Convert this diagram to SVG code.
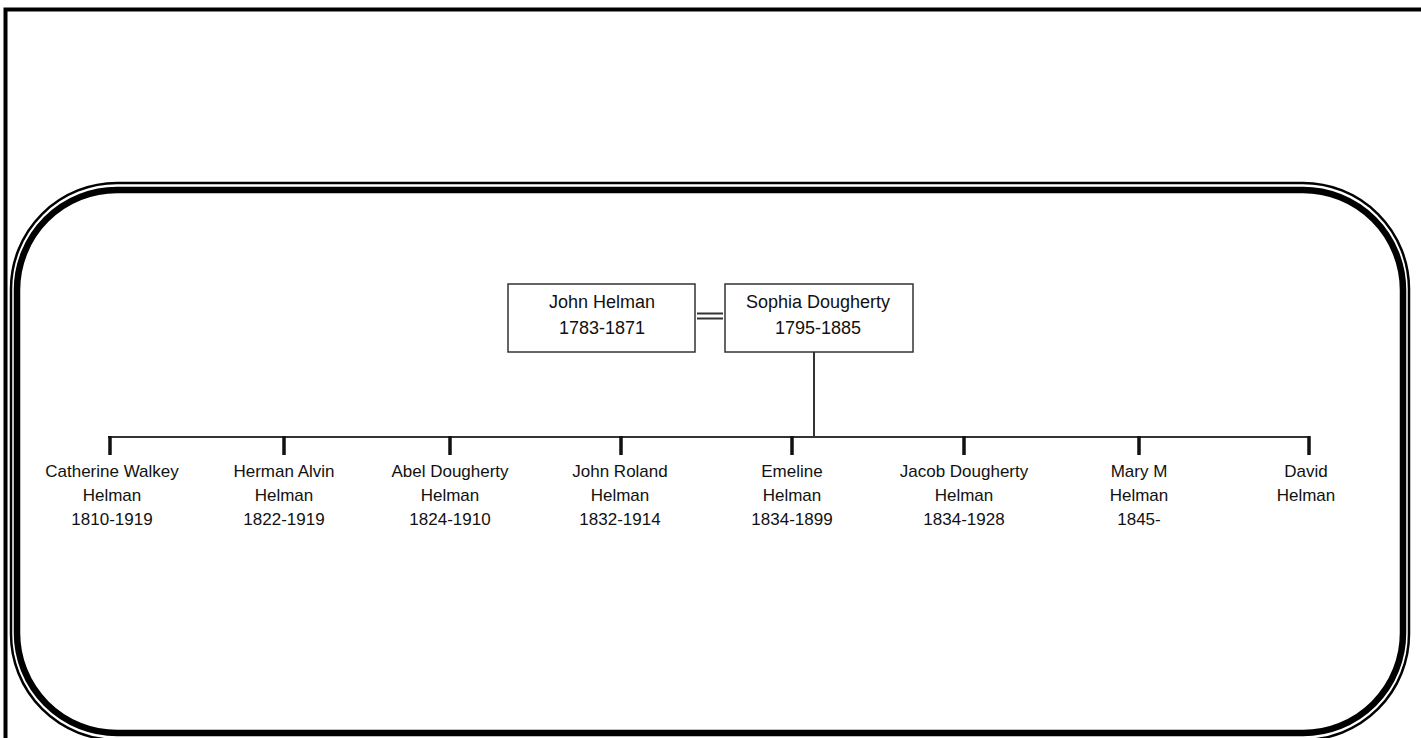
<svg xmlns="http://www.w3.org/2000/svg" width="1421" height="738" viewBox="0 0 1421 738">
  <style>
    .frame { fill: none; stroke: #000; }
    .box { fill: #fff; stroke: #333; stroke-width: 1.5; }
    .ptext { font-family: "Liberation Sans", Arial, sans-serif; font-size: 18px; fill: #111; text-anchor: middle; }
    .ctext { font-family: "Liberation Sans", Arial, sans-serif; font-size: 17px; fill: #111; text-anchor: middle; }
    .line { stroke: #333; stroke-width: 2; fill: none; }
    .tick { stroke: #111; stroke-width: 3.5; fill: none; }
  </style>
  <rect x="0" y="0" width="1421" height="738" fill="#fff"/>
  <g id="frame">
    <path class="frame" d="M5.5 738 V9.5 H1421" stroke-width="4"/>
    <rect class="frame" x="11" y="183" width="1398" height="557" rx="106" ry="106" stroke-width="2.5"/>
    <rect class="frame" x="17" y="190" width="1386" height="543" rx="100" ry="100" stroke-width="6.5"/>
  </g>
  <g id="connectors">
    <line class="line" x1="697" y1="313.5" x2="723" y2="313.5" stroke-width="2.8"/>
    <line class="line" x1="697" y1="318.5" x2="723" y2="318.5" stroke-width="2.8"/>
    <line class="line" x1="814" y1="352" x2="814" y2="437"/>
    <line class="line" x1="108" y1="437" x2="1310" y2="437"/>
    <line class="tick" x1="110" y1="436" x2="110" y2="455"/>
    <line class="tick" x1="284" y1="436" x2="284" y2="455"/>
    <line class="tick" x1="450" y1="436" x2="450" y2="455"/>
    <line class="tick" x1="621" y1="436" x2="621" y2="455"/>
    <line class="tick" x1="792" y1="436" x2="792" y2="455"/>
    <line class="tick" x1="964" y1="436" x2="964" y2="455"/>
    <line class="tick" x1="1139" y1="436" x2="1139" y2="455"/>
    <line class="tick" x1="1309" y1="436" x2="1309" y2="455"/>
  </g>
  <g id="john-helman">
    <rect class="box" x="508" y="284" width="187" height="68"/>
    <text class="ptext" x="602" y="308">John Helman</text>
    <text class="ptext" x="602" y="334">1783-1871</text>
  </g>
  <g id="sophia-dougherty">
    <rect class="box" x="725" y="284" width="188" height="68"/>
    <text class="ptext" x="818" y="308">Sophia Dougherty</text>
    <text class="ptext" x="818" y="334">1795-1885</text>
  </g>
  <g id="catherine">
    <text class="ctext" x="112" y="477">Catherine Walkey</text>
    <text class="ctext" x="112" y="501">Helman</text>
    <text class="ctext" x="112" y="525">1810-1919</text>
  </g>
  <g id="herman">
    <text class="ctext" x="284" y="477">Herman Alvin</text>
    <text class="ctext" x="284" y="501">Helman</text>
    <text class="ctext" x="284" y="525">1822-1919</text>
  </g>
  <g id="abel">
    <text class="ctext" x="450" y="477">Abel Dougherty</text>
    <text class="ctext" x="450" y="501">Helman</text>
    <text class="ctext" x="450" y="525">1824-1910</text>
  </g>
  <g id="john-roland">
    <text class="ctext" x="620" y="477">John Roland</text>
    <text class="ctext" x="620" y="501">Helman</text>
    <text class="ctext" x="620" y="525">1832-1914</text>
  </g>
  <g id="emeline">
    <text class="ctext" x="792" y="477">Emeline</text>
    <text class="ctext" x="792" y="501">Helman</text>
    <text class="ctext" x="792" y="525">1834-1899</text>
  </g>
  <g id="jacob">
    <text class="ctext" x="964" y="477">Jacob Dougherty</text>
    <text class="ctext" x="964" y="501">Helman</text>
    <text class="ctext" x="964" y="525">1834-1928</text>
  </g>
  <g id="mary">
    <text class="ctext" x="1139" y="477">Mary M</text>
    <text class="ctext" x="1139" y="501">Helman</text>
    <text class="ctext" x="1139" y="525">1845-</text>
  </g>
  <g id="david">
    <text class="ctext" x="1306" y="477">David</text>
    <text class="ctext" x="1306" y="501">Helman</text>
  </g>
</svg>
